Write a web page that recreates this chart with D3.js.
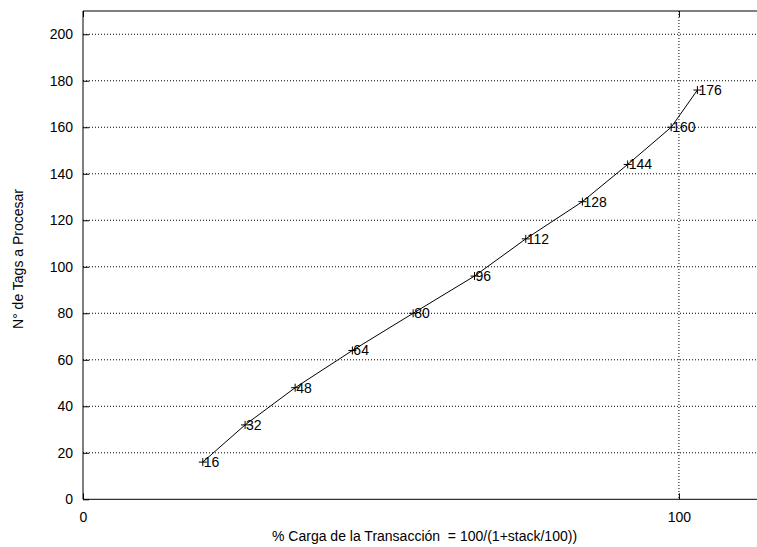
<!DOCTYPE html>
<html>
<head>
<meta charset="utf-8">
<script src="https://cdn.jsdelivr.net/npm/d3@7"></script>
<style>
  body { margin: 0; background: #fff; }
  svg { display: block; font-family: "Liberation Sans", Arial, sans-serif; }
  .grid line { stroke: #000; stroke-width: 1; stroke-dasharray: 1,2; }
  .axis path { display: none; }
  .axis line { stroke: #000; }
  .axis text { font-size: 14px; fill: #000; }
</style>
</head>
<body>
<svg id="chart" width="757" height="547"></svg>
<script>
// carga (%) vs number of tags
const carga = [20.1, 27.2, 35.6, 45.2, 55.4, 65.7, 74.3, 83.8, 91.4, 98.7, 103.1];
const tags = [16, 32, 48, 64, 80, 96, 112, 128, 144, 160, 176];
const xTicks = [0, 100];
const yTicks = [0, 20, 40, 60, 80, 100, 120, 140, 160, 180, 200];

const svg = d3.select('#chart');
const mLeft = 83, mTop = 11, mBottom = 499.3, mRight = 757;

const xScale = d3.scaleLinear().domain([0, 113.1]).range([mLeft, mRight]);
const yScale = d3.scaleLinear().domain([0, 210]).range([mBottom, mTop]);

// grid
const grid = svg.append('g').attr('class', 'grid');
grid.selectAll('.hg')
  .data(yTicks.filter(d => d > 0))
  .join('line')
  .attr('x1', mLeft).attr('x2', mRight)
  .attr('y1', d => yScale(d)).attr('y2', d => yScale(d));
grid.selectAll('.vg')
  .data(xTicks.filter(d => d > 0))
  .join('line')
  .attr('x1', d => xScale(d)).attr('x2', d => xScale(d))
  .attr('y1', mTop).attr('y2', mBottom);

// axes
svg.append('g')
  .attr('class', 'axis')
  .attr('transform', `translate(0,${mBottom})`)
  .call(d3.axisBottom(xScale).tickValues(xTicks).tickSize(-6).tickPadding(13));
svg.append('g')
  .attr('class', 'axis')
  .attr('transform', `translate(0,${mTop})`)
  .call(d3.axisTop(xScale).tickValues(xTicks).tickSize(-6).tickFormat(''));
svg.append('g')
  .attr('class', 'axis')
  .attr('transform', `translate(${mLeft},0)`)
  .call(d3.axisLeft(yScale).tickValues(yTicks).tickSize(-6).tickPadding(10));

// frame
svg.append('line').attr('x1', mLeft).attr('x2', mRight).attr('y1', mBottom).attr('y2', mBottom).attr('stroke', '#000');
svg.append('line').attr('x1', mLeft).attr('x2', mRight).attr('y1', mTop).attr('y2', mTop).attr('stroke', '#000');
svg.append('line').attr('x1', mLeft).attr('x2', mLeft).attr('y1', mTop).attr('y2', mBottom).attr('stroke', '#000');

// data line
const pts = carga.map((c, i) => ({ x: c, y: tags[i] }));
svg.append('path')
  .datum(pts)
  .attr('fill', 'none')
  .attr('stroke', '#000')
  .attr('stroke-width', 1)
  .attr('d', d3.line().x(d => xScale(d.x)).y(d => yScale(d.y)));

// plus markers
svg.selectAll('.mark')
  .data(pts)
  .join('path')
  .attr('class', 'mark')
  .attr('stroke', '#000')
  .attr('fill', 'none')
  .attr('d', d => {
    const cx = xScale(d.x), cy = yScale(d.y);
    return `M${cx - 4},${cy}H${cx + 4}M${cx},${cy - 4}V${cy + 4}`;
  });

// point labels
svg.selectAll('.lbl')
  .data(pts)
  .join('text')
  .attr('class', 'lbl')
  .attr('x', d => xScale(d.x) + 1)
  .attr('y', d => yScale(d.y) + 5)
  .style('font-size', '14px')
  .text(d => d.y);

// axis titles
svg.append('text')
  .attr('x', 272).attr('y', 541)
  .style('font-size', '14px')
  .style('white-space', 'pre')
  .text('% Carga de la Transacción  = 100/(1+stack/100))');
svg.append('text')
  .attr('transform', 'rotate(-90)')
  .attr('x', -259).attr('y', 23)
  .style('text-anchor', 'middle')
  .style('font-size', '14px')
  .text('N° de Tags a Procesar');
</script>
</body>
</html>
